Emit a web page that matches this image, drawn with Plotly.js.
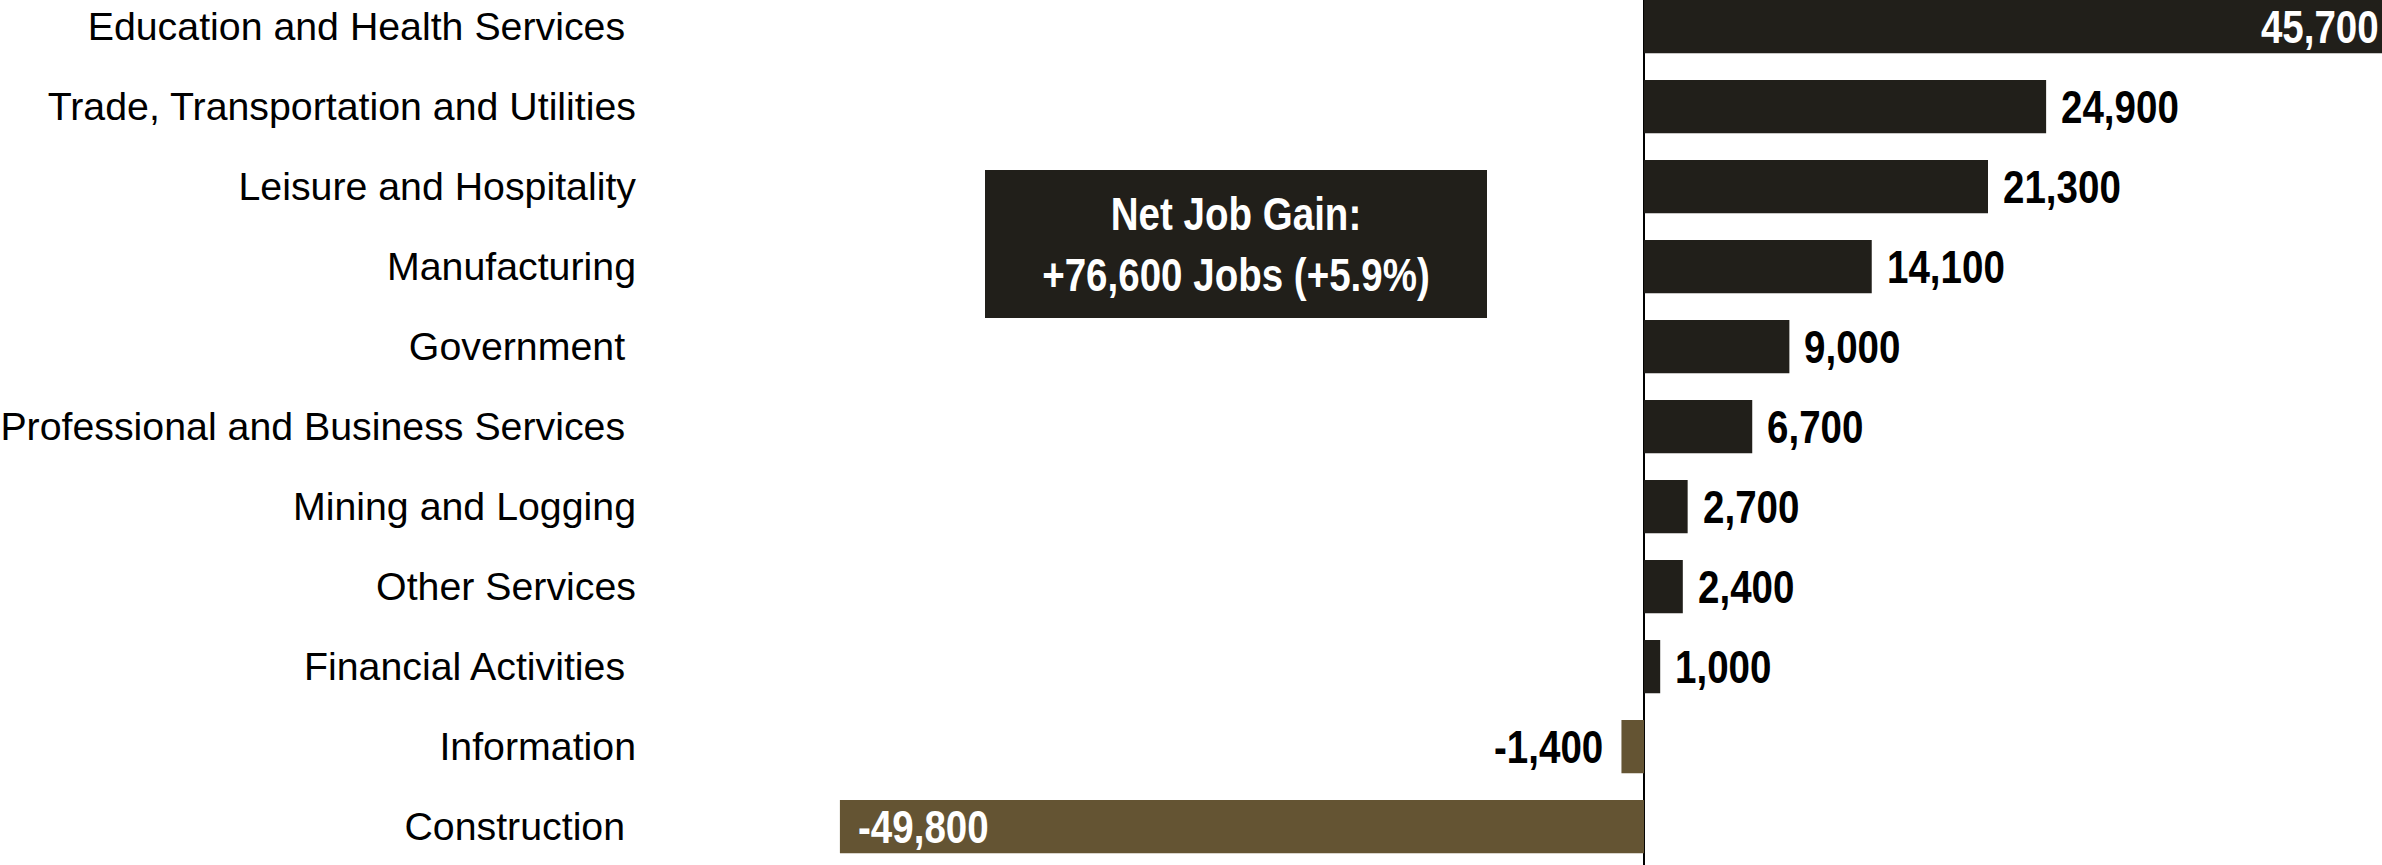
<!DOCTYPE html>
<html>
<head>
<meta charset="utf-8">
<script src="https://cdn.plot.ly/plotly-3.0.1.min.js"></script>
<style>
html,body{margin:0;padding:0;background:#fff;}
#chart{width:2382px;height:865px;}
</style>
</head>
<body>
<div id="chart"></div>
<script>
// Data
const industries = [
  "Education and Health Services\u00A0",
  "Trade, Transportation and Utilities",
  "Leisure and Hospitality",
  "Manufacturing",
  "Government\u00A0",
  "Professional and Business Services\u00A0",
  "Mining and Logging",
  "Other Services",
  "Financial Activities\u00A0",
  "Information",
  "Construction\u00A0"
];
const jobChange = [45700, 24900, 21300, 14100, 9000, 6700, 2700, 2400, 1000, -1400, -49800];
const netGainLines = ["Net Job Gain:", "+76,600 Jobs (+5.9%)"];

// Styles
const POS = "#211f1a";
const NEG = "#645433";
const boldFont = "'Liberation Sans Narrow', 'Arial Narrow', 'Liberation Sans', Arial, sans-serif";
const NARROW = 0.82; // horizontal condensing of the bold labels

const barColors = jobChange.map(v => v >= 0 ? POS : NEG);

const trace = {
  type: "bar",
  orientation: "h",
  x: jobChange,
  y: industries,
  marker: {color: barColors, line: {width: 0}},
  hoverinfo: "none"
};

const annotations = jobChange.map((v, i) => {
  const inside = Math.abs(v) > 40000;
  const label = v.toLocaleString("en-US");
  let xanchor, xshift, color;
  if (v >= 0) {
    if (inside) { xanchor = "right"; xshift = -3; color = "#ffffff"; }
    else { xanchor = "left"; xshift = 15; color = "#000000"; }
  } else {
    if (inside) { xanchor = "left"; xshift = 18; color = "#ffffff"; }
    else { xanchor = "right"; xshift = -18; color = "#000000"; }
  }
  return {
    x: v, y: industries[i], xref: "x", yref: "y",
    text: "<b>" + label + "</b>",
    showarrow: false, xanchor: xanchor, yanchor: "middle", xshift: xshift,
    borderpad: 0, borderwidth: 0,
    font: {family: boldFont, size: 47, color: color}
  };
});

annotations.push({
  xref: "paper", yref: "paper", x: 0.3421, y: 0.718,
  xanchor: "center", yanchor: "middle",
  text: netGainLines.map(s => "<b>" + s + "</b>").join("<br>"),
  showarrow: false, align: "center", valign: "middle",
  width: 502, height: 148, bgcolor: POS, borderpad: 0, borderwidth: 0,
  font: {family: boldFont, size: 47, color: "#ffffff"}
});

const layout = {
  width: 2382, height: 865,
  margin: {l: 640, r: 0, t: 0, b: 0, pad: 0},
  paper_bgcolor: "#ffffff", plot_bgcolor: "#ffffff",
  showlegend: false,
  bargap: 0.333,
  xaxis: {
    range: [-62180, 45700], showgrid: false, showticklabels: false, ticks: "",
    zeroline: true, zerolinecolor: "#000000", zerolinewidth: 1.5, showline: false,
    fixedrange: true
  },
  yaxis: {
    type: "category", range: [10.479, -0.333], showgrid: false, zeroline: false,
    showline: false, ticks: "", automargin: false, ticklabelstandoff: 3,
    tickfont: {family: "'Liberation Sans', Arial, sans-serif", size: 39.3, color: "#000000"},
    fixedrange: true
  },
  annotations: annotations
};

Plotly.newPlot("chart", [trace], layout, {displayModeBar: false, staticPlot: true}).then(gd => {
  gd.querySelectorAll("g.annotation").forEach(g => {
    const idx = +g.getAttribute("data-index");
    const ann = layout.annotations[idx];
    const txt = g.querySelector("text.annotation-text");
    if (!txt || !ann) return;
    const bb = txt.getBBox();
    let ox;
    if (ann.xanchor === "left") ox = bb.x;
    else if (ann.xanchor === "right") ox = bb.x + bb.width;
    else ox = bb.x + bb.width / 2;
    const prev = txt.getAttribute("transform") || "";
    txt.setAttribute("transform", prev + " translate(" + ox + ",0) scale(" + NARROW + ",1) translate(" + (-ox) + ",0)");
  });
});
</script>
</body>
</html>
